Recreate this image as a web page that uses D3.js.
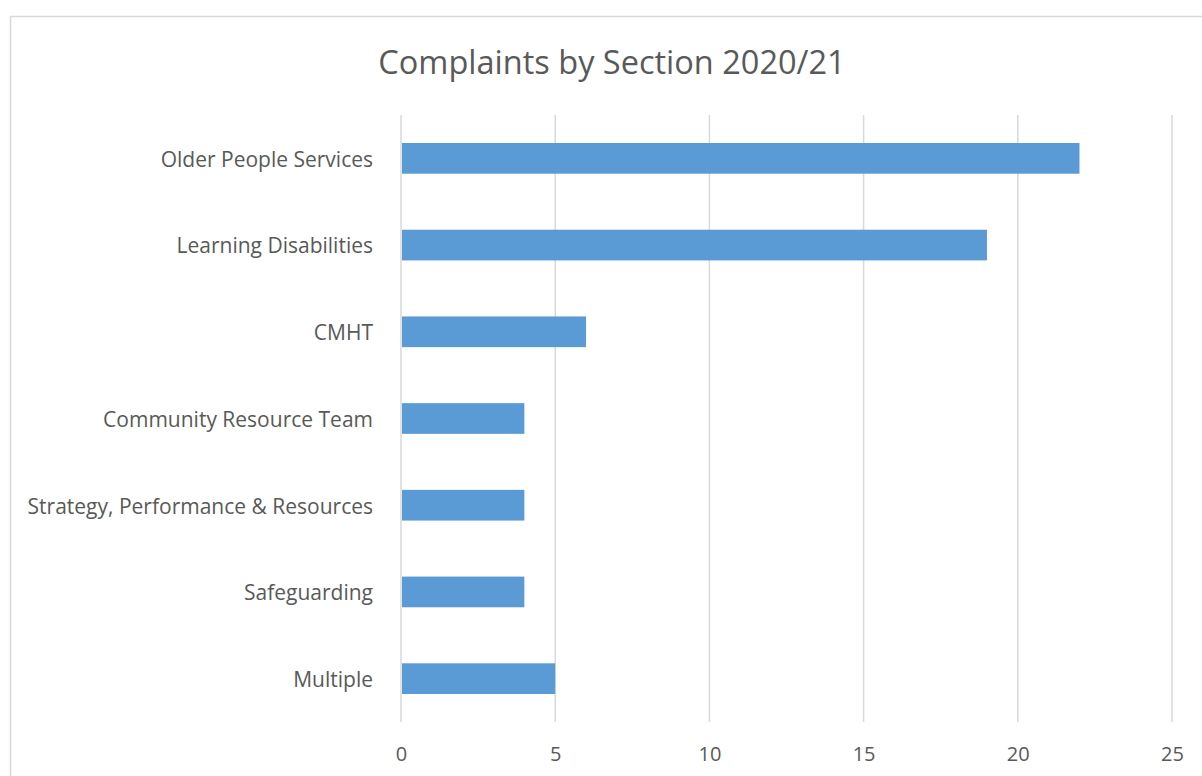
<!DOCTYPE html>
<html>
<head>
<meta charset="utf-8">
<script src="https://cdn.jsdelivr.net/npm/d3@7"></script>
<style>
  html, body { margin: 0; padding: 0; background: #fff; }
  svg { display: block; }
  text { font-family: "Open Sans", "Noto Sans", sans-serif; fill: #595959; }
</style>
</head>
<body>
<svg id="chart" width="1202" height="776"></svg>
<script>
const title = "Complaints by Section 2020/21";
const categories = ["Older People Services", "Learning Disabilities", "CMHT", "Community Resource Team", "Strategy, Performance & Resources", "Safeguarding", "Multiple"];
const values = [22, 19, 6, 4, 4, 4, 5];
const xTicks = [0, 5, 10, 15, 20, 25];

const svg = d3.select("#chart");
const W = 1202, H = 776;
const plot = { left: 401, right: 1172, top: 115, bottom: 722 };

svg.append("rect").attr("x", 0).attr("y", 0).attr("width", W).attr("height", H).attr("fill", "#fff");
// chart border
svg.append("rect").attr("x", 10.5).attr("y", 16.5).attr("width", 1220).attr("height", 800)
  .attr("fill", "none").attr("stroke", "#d9d9d9").attr("stroke-width", 1.5);

const x = d3.scaleLinear().domain([0, 25]).range([plot.left, plot.right]);
const y = d3.scaleBand().domain(categories).range([plot.top, plot.bottom]).paddingInner(0.646).paddingOuter(0.323);

// gridlines
svg.append("g").selectAll("line").data(xTicks).join("line")
  .attr("x1", d => x(d)).attr("x2", d => x(d))
  .attr("y1", plot.top).attr("y2", plot.bottom)
  .attr("stroke", "#d9d9d9").attr("stroke-width", 1.5);

// bars
svg.append("g").selectAll("rect").data(categories).join("rect")
  .attr("x", x(0) + 1)
  .attr("y", d => y(d))
  .attr("width", (d, i) => x(values[i]) - x(0) - 1)
  .attr("height", y.bandwidth())
  .attr("fill", "#5b9bd5");

// x axis labels
const xAxis = d3.axisBottom(x).tickValues(xTicks).tickSize(0).tickPadding(0);
const gx = svg.append("g").attr("transform", `translate(0,${plot.bottom + 25})`).call(xAxis);
gx.select(".domain").remove();
gx.selectAll("text").attr("font-size", 20).attr("fill", "#595959")
  .style("font-family", '"Open Sans", sans-serif');

// y axis labels
const yAxis = d3.axisLeft(y).tickSize(0).tickPadding(28);
const gy = svg.append("g").attr("transform", `translate(${plot.left},0)`).call(yAxis);
gy.select(".domain").remove();
gy.selectAll("text").attr("font-size", 21).attr("fill", "#595959").attr("dy", "0.4em")
  .style("font-family", '"Open Sans", sans-serif');

// title
svg.append("text").attr("x", 612).attr("y", 74).attr("text-anchor", "middle")
  .attr("font-size", 32.5).text(title);
</script>
</body>
</html>
